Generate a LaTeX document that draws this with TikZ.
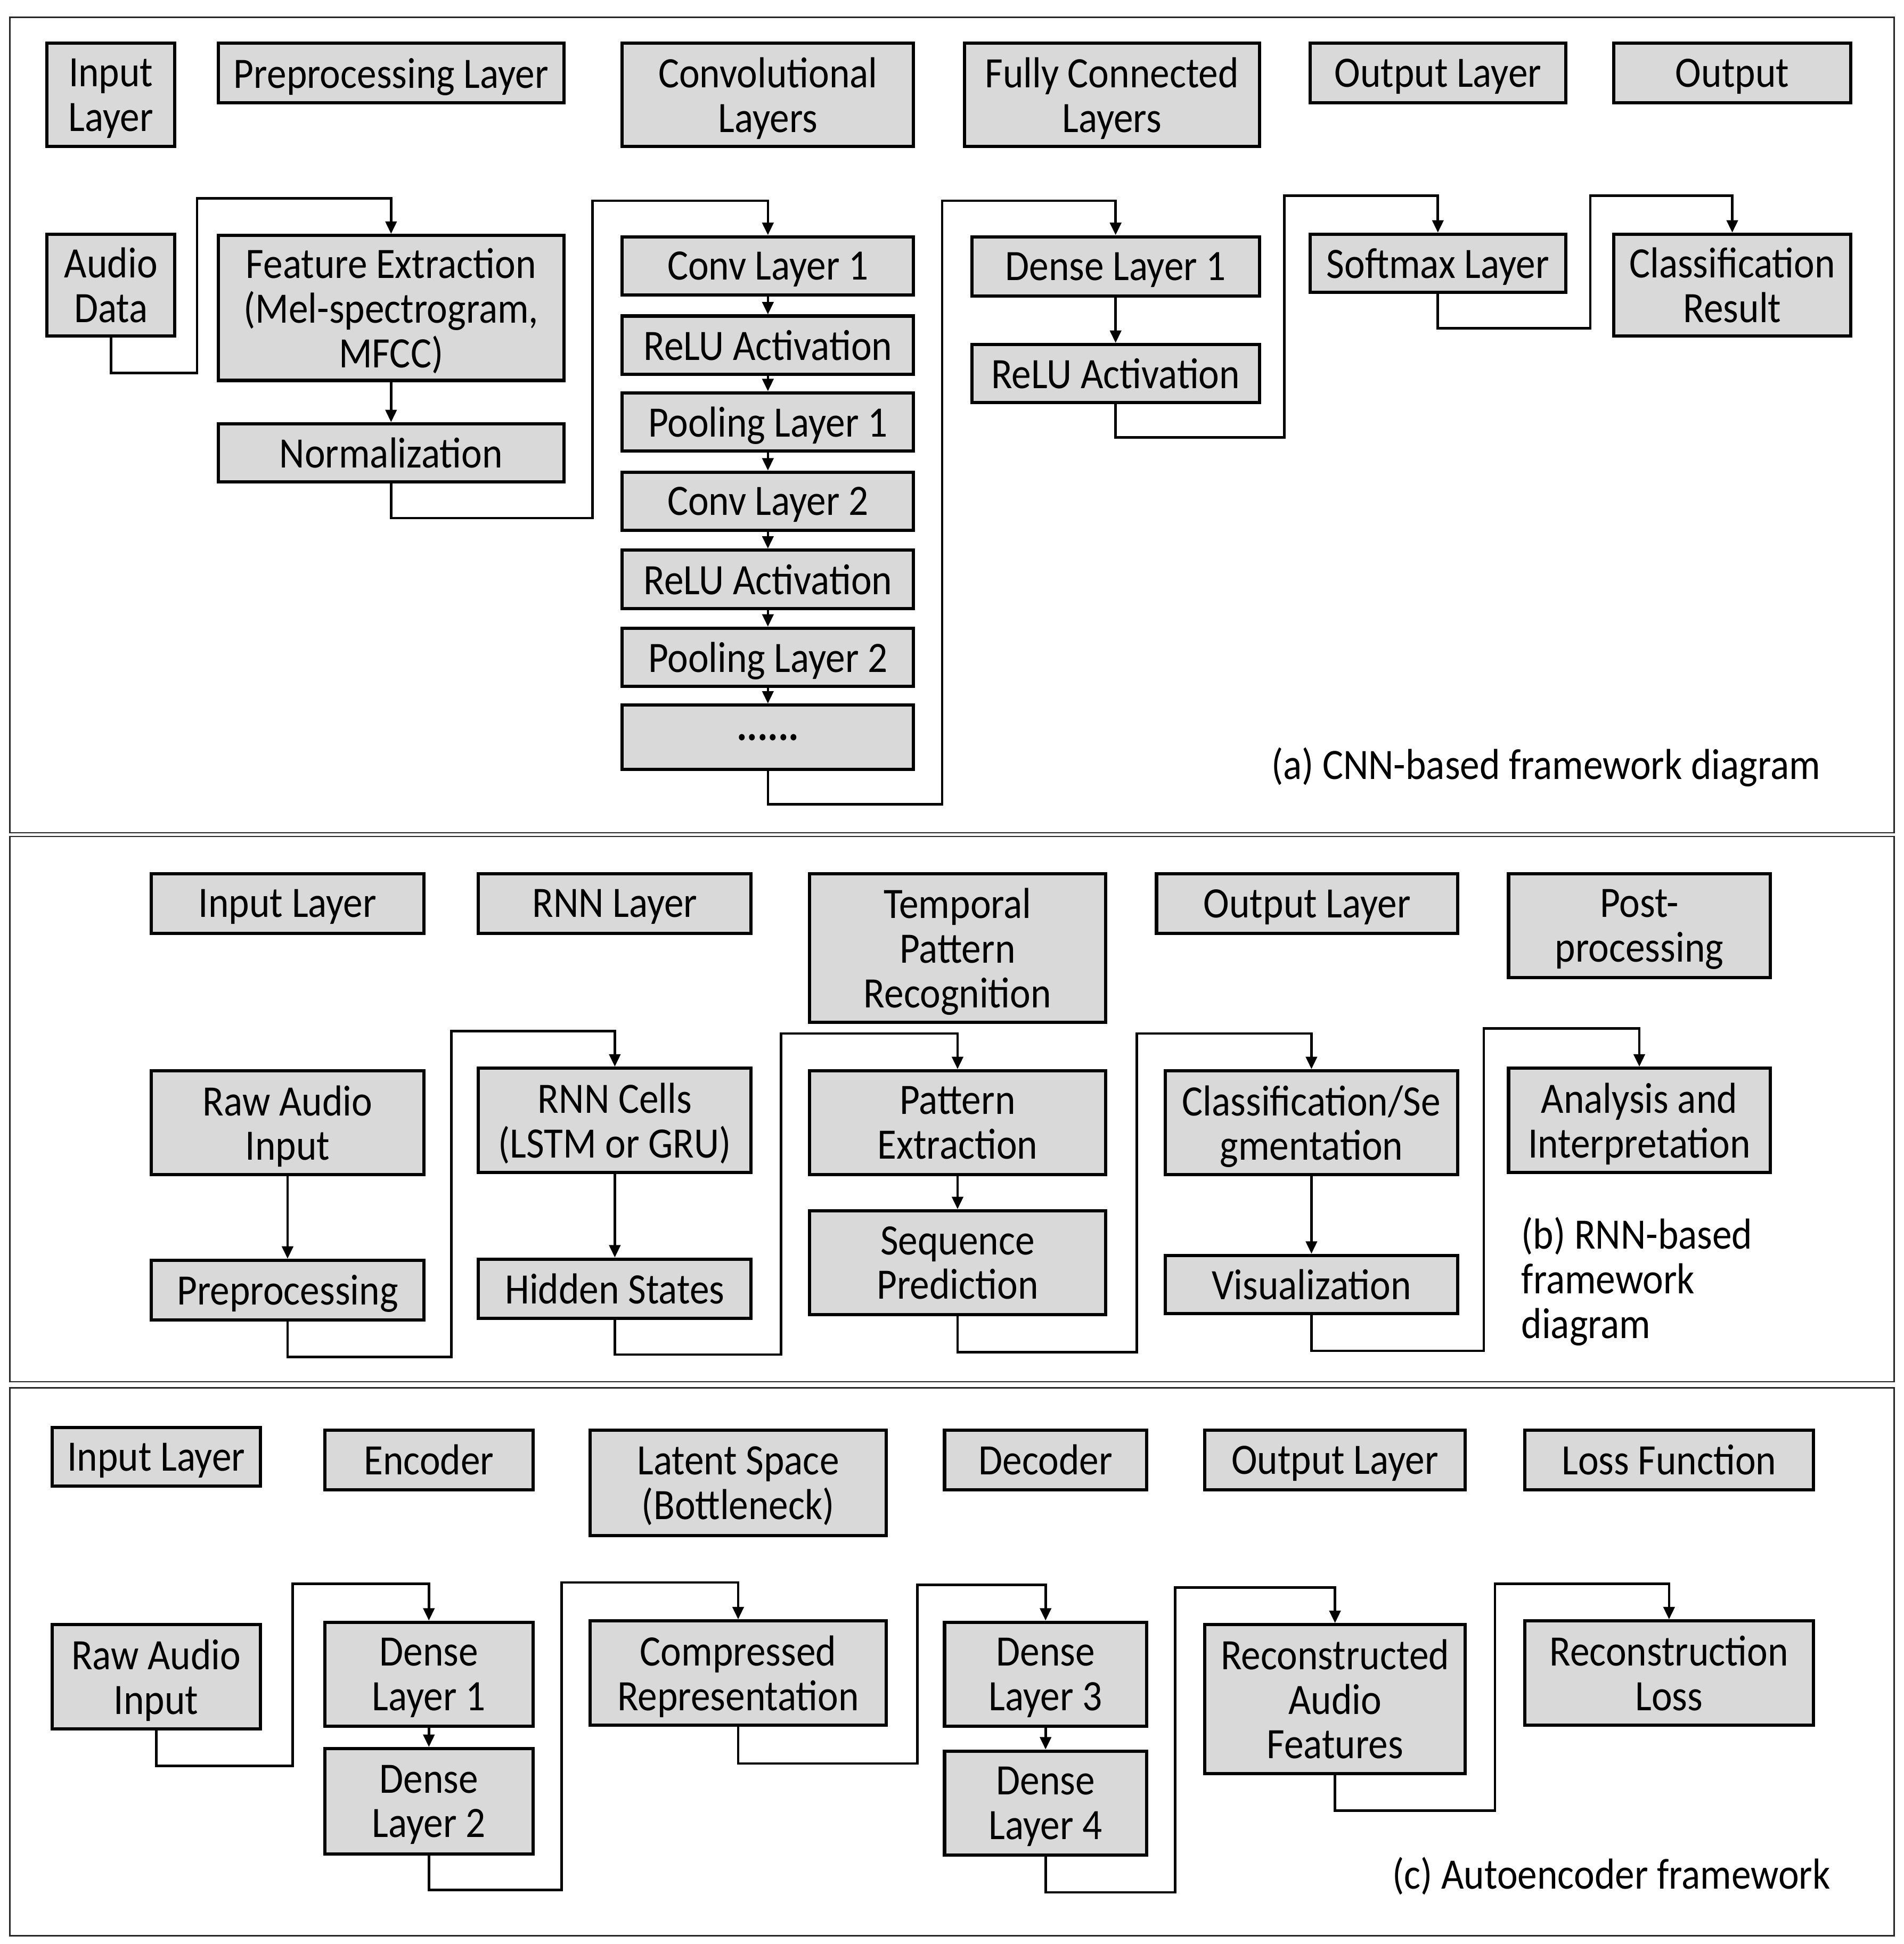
\documentclass[tikz,border=0pt]{standalone}
\usepackage{fontspec}
\setmainfont{Carlito}[FakeStretch=0.9]
\usetikzlibrary{arrows.meta}
\definecolor{boxgray}{RGB}{217,217,217}
\tikzset{
 bx/.style={draw=black, fill=boxgray, line width=1.3pt, align=center, inner sep=0pt, text depth=0pt, font=\fontsize{17.5}{18}\selectfont},
 conn/.style={line width=1pt, -{Triangle[length=5pt,width=4.5pt]}},
 panelframe/.style={draw=black!85, line width=0.6pt},
 captxt/.style={font=\fontsize{17.5}{18}\selectfont, inner sep=0pt}
}
\newcommand\mybox[7][]{%
 \pgfmathsetmacro\mybw{(#5-#3)*0.5}%
 \pgfmathsetmacro\mybh{(#6-#4)*0.5}%
 \node[bx,minimum width=\mybw pt,minimum height=\mybh pt,#1] (#2) at ({(#3+#5)/2},{(#4+#6)/2}) {#7};}
\newcommand\zz[5]{\draw[conn] (#1.south) |- (#4,#3) -- (#4,#5) -| (#2.north);}
\begin{document}
\begin{tikzpicture}[x=0.5pt,y=-0.5pt]
\fill[white] (0,0) rectangle (1536,1568.7);
\useasboundingbox (0,0) rectangle (1536,1568.7);
% frames
\draw[panelframe] (8,14) rectangle (1528,672);
\draw[panelframe] (8,675) rectangle (1528,1115);
\draw[panelframe] (8,1120) rectangle (1528,1562);
% ---------- panel a ----------
\mybox{ha1}{38}{35}{141}{118}{Input\\Layer}
\mybox{ha2}{176}{35}{455}{83}{Preprocessing Layer}
\mybox{ha3}{502}{35}{737}{118}{Convolutional\\Layers}
\mybox{ha4}{778}{35}{1016}{118}{Fully Connected\\Layers}
\mybox{ha5}{1057}{35}{1263}{83}{Output Layer}
\mybox{ha6}{1302}{35}{1493}{83}{Output}
\mybox{ad}{38}{189}{141}{271}{Audio\\Data}
\mybox{fe}{176}{190}{455}{307}{Feature Extraction\\(Mel-spectrogram,\\MFCC)}
\mybox{nm}{176}{342}{455}{389}{Normalization}
\mybox{c1}{502}{191}{737}{238}{Conv Layer 1}
\mybox{r1}{502}{255}{737}{302}{ReLU Activation}
\mybox{p1}{502}{317}{737}{364}{Pooling Layer 1}
\mybox{c2}{502}{381}{737}{428}{Conv Layer 2}
\mybox{r2}{502}{444}{737}{491}{ReLU Activation}
\mybox{p2}{502}{507}{737}{554}{Pooling Layer 2}
\mybox{dots}{502}{569}{737}{621}{\bfseries ......}
\mybox{d1}{784}{191}{1016}{239}{Dense Layer 1}
\mybox{dr}{784}{278}{1016}{325}{ReLU Activation}
\mybox{sm}{1057}{189}{1263}{236}{Softmax Layer}
\mybox{cr}{1302}{189}{1493}{271}{Classification\\Result}
\node[captxt,anchor=east] (capa) at (1469,619) {(a) CNN-based framework diagram};
\zz{ad}{fe}{301}{159}{160}
\draw[conn] (fe.south) -- (nm.north);
\zz{nm}{c1}{418}{478}{162}
\draw[conn] (c1.south) -- (r1.north);
\draw[conn] (r1.south) -- (p1.north);
\draw[conn] (p1.south) -- (c2.north);
\draw[conn] (c2.south) -- (r2.north);
\draw[conn] (r2.south) -- (p2.north);
\draw[conn] (p2.south) -- (dots.north);
\zz{dots}{d1}{649}{760}{162}
\draw[conn] (d1.south) -- (dr.north);
\zz{dr}{sm}{353}{1036}{158}
\zz{sm}{cr}{265}{1283}{158}
% ---------- panel b ----------
\mybox{hb1}{122}{705}{342}{753}{Input Layer}
\mybox{hb2}{386}{705}{606}{753}{RNN Layer}
\mybox{hb3}{653}{705}{892}{825}{Temporal\\Pattern\\Recognition}
\mybox{hb4}{933}{705}{1176}{753}{Output Layer}
\mybox{hb5}{1217}{705}{1428}{789}{Post-\\processing}
\mybox{ra}{122}{864}{342}{948}{Raw Audio\\Input}
\mybox{pp}{122}{1017}{342}{1065}{Preprocessing}
\mybox{rc}{386}{862}{606}{946}{RNN Cells\\(LSTM or GRU)}
\mybox{hs}{386}{1016}{606}{1064}{Hidden States}
\mybox{pe}{653}{864}{892}{948}{Pattern\\Extraction}
\mybox{sp}{653}{977}{892}{1061}{Sequence\\Prediction}
\mybox{cs}{940}{864}{1176}{948}{Classification/Se\\gmentation}
\mybox{vi}{940}{1013}{1176}{1060}{Visualization}
\mybox{ai}{1217}{862}{1428}{946}{Analysis and\\Interpretation}
\node[captxt,anchor=west,align=left] (capb) at (1227,1034) {(b) RNN-based\\framework\\diagram};
\draw[conn] (ra.south) -- (pp.north);
\zz{pp}{rc}{1095}{364}{832}
\draw[conn] (rc.south) -- (hs.north);
\zz{hs}{pe}{1093}{630}{834}
\draw[conn] (pe.south) -- (sp.north);
\zz{sp}{cs}{1091}{917}{834}
\draw[conn] (cs.south) -- (vi.north);
\zz{vi}{ai}{1090}{1197}{830}
% ---------- panel c ----------
\mybox{hc1}{42}{1152}{210}{1199}{Input Layer}
\mybox{hc2}{262}{1154}{430}{1202}{Encoder}
\mybox{hc3}{476}{1154}{715}{1239}{Latent Space\\(Bottleneck)}
\mybox{hc4}{762}{1154}{925}{1202}{Decoder}
\mybox{hc5}{972}{1154}{1182}{1202}{Output Layer}
\mybox{hc6}{1230}{1154}{1463}{1202}{Loss Function}
\mybox{rai}{42}{1311}{210}{1395}{Raw Audio\\Input}
\mybox{e1}{262}{1309}{430}{1393}{Dense\\Layer 1}
\mybox{e2}{262}{1411}{430}{1496}{Dense\\Layer 2}
\mybox{cp}{476}{1308}{715}{1392}{Compressed\\Representation}
\mybox{e3}{762}{1309}{925}{1393}{Dense\\Layer 3}
\mybox{e4}{762}{1413}{925}{1497}{Dense\\Layer 4}
\mybox{rf}{972}{1311}{1182}{1431}{Reconstructed\\Audio\\Features}
\mybox{rl}{1230}{1308}{1463}{1392}{Reconstruction\\Loss}
\node[captxt,anchor=east] (capc) at (1477,1514) {(c) Autoencoder framework};
\zz{rai}{e1}{1425}{236}{1278}
\draw[conn] (e1.south) -- (e2.north);
\zz{e2}{cp}{1525}{453}{1277}
\zz{cp}{e3}{1423}{740}{1279}
\draw[conn] (e3.south) -- (e4.north);
\zz{e4}{rf}{1527}{948}{1281}
\zz{rf}{rl}{1461}{1206}{1278}
\end{tikzpicture}
\end{document}
